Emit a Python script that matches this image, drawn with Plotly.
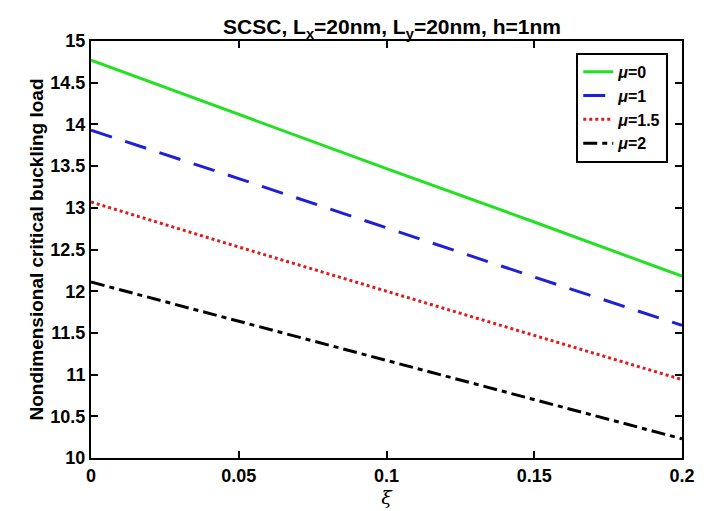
import plotly.graph_objects as go

# Nonlocal parameter xi and the critical buckling loads for each mu
xi = [0.0, 0.05, 0.1, 0.15, 0.2]
load_mu0 = [14.77, 14.12, 13.47, 12.83, 12.18]
load_mu1 = [13.93, 13.35, 12.76, 12.17, 11.59]
load_mu15 = [13.07, 12.53, 12.00, 11.47, 10.94]
load_mu2 = [12.11, 11.64, 11.17, 10.70, 10.23]

series_names = ["<b><i>μ</i>=0</b>", "<b><i>μ</i>=1</b>", "<b><i>μ</i>=1.5</b>", "<b><i>μ</i>=2</b>"]
x_ticks = [0, 0.05, 0.1, 0.15, 0.2]
x_tick_text = ["0", "0.05", "0.1", "0.15", "0.2"]
y_ticks = [10, 10.5, 11, 11.5, 12, 12.5, 13, 13.5, 14, 14.5, 15]
y_tick_text = ["10", "10.5", "11", "11.5", "12", "12.5", "13", "13.5", "14", "14.5", "15"]

styles = [
    dict(color="#22e022", dash="solid"),
    dict(color="#1f1fd6", dash="22px,14px"),
    dict(color="#e01b1b", dash="3px,3px"),
    dict(color="#000000", dash="14px,5px,5px,5px"),
]

fig = go.Figure()
for name, ys, st in zip(series_names, [load_mu0, load_mu1, load_mu15, load_mu2], styles):
    fig.add_trace(go.Scatter(
        x=xi, y=ys, mode="lines", name=name,
        line=dict(color=st["color"], dash=st["dash"], width=3),
    ))

font_family = "Liberation Sans, Arial, sans-serif"
axis_common = dict(
    showline=True, linecolor="black", linewidth=2, mirror="ticks",
    ticks="inside", ticklen=7, tickwidth=2, tickcolor="black",
    showgrid=False, zeroline=False,
    tickfont=dict(family=font_family, size=18, color="black", weight="bold"),
)

fig.update_layout(
    width=707, height=511,
    margin=dict(l=91, r=14, t=41, b=48),
    paper_bgcolor="white", plot_bgcolor="white",
    font=dict(family=font_family, color="black"),
    title=dict(
        text="<b>SCSC, L<sub>x</sub>=20nm, L<sub>y</sub>=20nm, h=1nm</b>",
        x=(91 + 693) / 2 / 707, xanchor="center", y=1 - 27 / 511, yanchor="middle",
        font=dict(family=font_family, size=21, color="black"),
    ),
    xaxis=dict(
        range=[0, 0.2], tickvals=x_ticks, ticktext=["<b>%s</b>" % t for t in x_tick_text],
        title=dict(text="<i>ξ</i>", font=dict(family="DejaVu Serif, serif", size=19, color="black"), standoff=0),
        **axis_common,
    ),
    yaxis=dict(
        range=[10, 15], tickvals=y_ticks, ticktext=["<b>%s</b>" % t for t in y_tick_text],
        title=dict(text="<b>Nondimensional critical buckling load</b>",
                   font=dict(family=font_family, size=19, color="black"), standoff=2),
        **axis_common,
    ),
    legend=dict(
        x=(679 - 91) / 602, y=(463 - 53) / 422, xanchor="right", yanchor="top",
        bgcolor="white", bordercolor="black", borderwidth=2,
        font=dict(family=font_family, size=16, color="black"),
        itemwidth=30, tracegroupgap=0,
    ),
    showlegend=True,
)

fig.write_html("out.html")
